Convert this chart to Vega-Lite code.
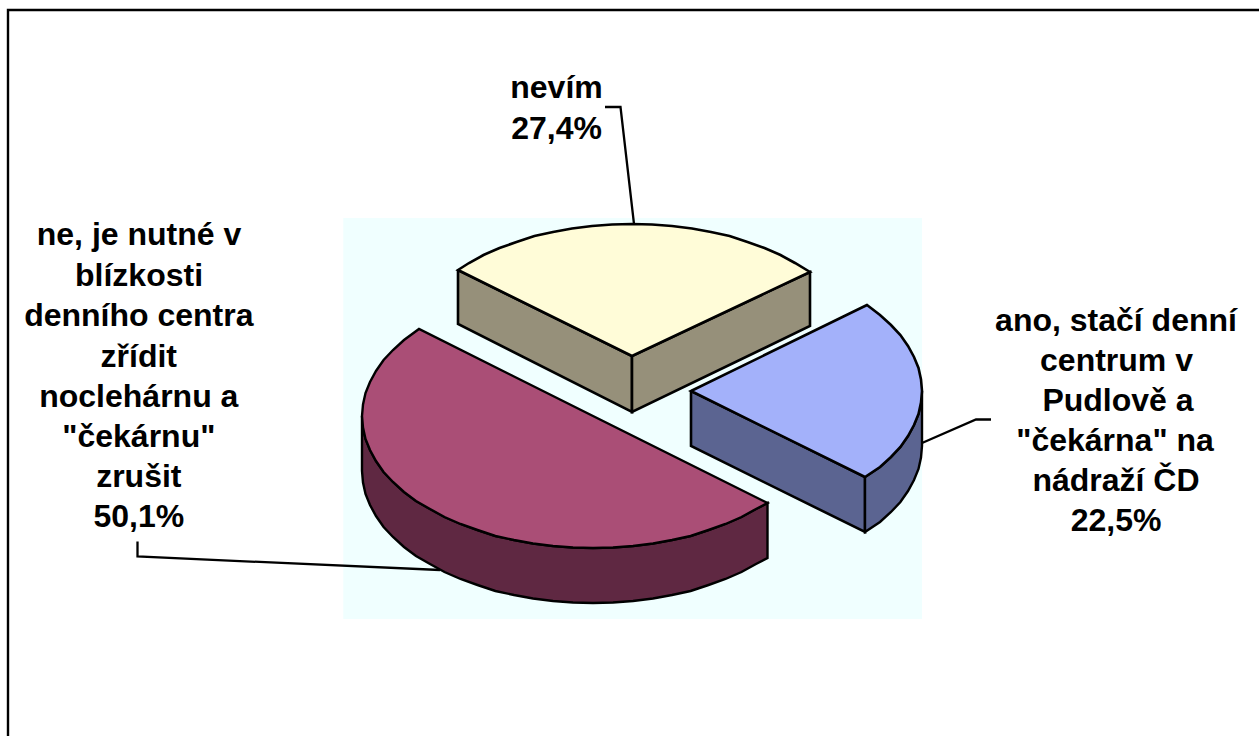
{"$schema":"https://vega.github.io/schema/vega-lite/v6.json","width":1259,"height":736,"padding":0,"autosize":{"type":"none"},"background":"white","view":{"stroke":null},
"encoding":{"x":{"field":"x","type":"quantitative","scale":{"domain":[0,1259]},"axis":null},"y":{"field":"y","type":"quantitative","scale":{"domain":[736,0]},"axis":null}},
"layer":[
{"data":{"values":[{"x":343.3,"x2":922,"y":218,"y2":619}]},"mark":{"type":"rect","fill":"#F0FFFF"},"encoding":{"x2":{"field":"x2"},"y2":{"field":"y2"}}},
{"data":{"values":[{"x":8,"y":736},{"x":8,"y":10},{"x":1259,"y":10}]},"mark":{"type":"line","stroke":"black","strokeWidth":2.4,"strokeJoin":"miter"},"encoding":{"order":{"value":null}}},
{"data":{"values":[{"x":605,"y":107},{"x":620.5,"y":107},{"x":634,"y":224}]},"mark":{"type":"line","stroke":"black","strokeWidth":2.3,"strokeJoin":"miter"},"encoding":{"order":{"value":null}}},
{"data":{"values":[{"x":991,"y":419.5},{"x":976,"y":419.5},{"x":922,"y":443}]},"mark":{"type":"line","stroke":"black","strokeWidth":2.3,"strokeJoin":"miter"},"encoding":{"order":{"value":null}}},
{"data":{"values":[{"x":137.5,"y":541.5},{"x":137.5,"y":556.5},{"x":440,"y":570}]},"mark":{"type":"line","stroke":"black","strokeWidth":2.3,"strokeJoin":"miter"},"encoding":{"order":{"value":null}}},
{"data":{"values":[{"x":362,"y":416},{"x":363,"y":427.5},{"x":365.5,"y":439},{"x":370,"y":450},{"x":376,"y":461},{"x":383.6,"y":472},{"x":393,"y":482},{"x":404,"y":492},{"x":416,"y":501},{"x":430,"y":509},{"x":444.5,"y":517},{"x":460.5,"y":524},{"x":477.5,"y":530},{"x":495.4,"y":536},{"x":514,"y":540},{"x":533,"y":543.5},{"x":553,"y":546},{"x":573,"y":547.5},{"x":593,"y":548},{"x":613,"y":547.5},{"x":633,"y":546},{"x":653,"y":543.5},{"x":672,"y":540},{"x":690.6,"y":536},{"x":708.5,"y":530},{"x":725.5,"y":524},{"x":741.5,"y":517},{"x":756,"y":509},{"x":767.5,"y":503},{"x":767.5,"y":558},{"x":756,"y":564},{"x":741.5,"y":572},{"x":725.5,"y":579},{"x":708.5,"y":585},{"x":690.6,"y":591},{"x":672,"y":595},{"x":653,"y":598.5},{"x":633,"y":601},{"x":613,"y":602.5},{"x":593,"y":603},{"x":573,"y":602.5},{"x":553,"y":601},{"x":533,"y":598.5},{"x":514,"y":595},{"x":495.4,"y":591},{"x":477.5,"y":585},{"x":460.5,"y":579},{"x":444.5,"y":572},{"x":430,"y":564},{"x":416,"y":556},{"x":404,"y":547},{"x":393,"y":537},{"x":383.6,"y":527},{"x":376,"y":516},{"x":370,"y":505},{"x":365.5,"y":494},{"x":363,"y":482.5},{"x":362,"y":471},{"x":362,"y":416}]},"mark":{"type":"line","fill":"#5F2842","stroke":"black","strokeWidth":2.4,"strokeJoin":"miter"},"encoding":{"order":{"value":null}}},
{"data":{"values":[{"x":593,"y":416},{"x":419,"y":329},{"x":404,"y":340},{"x":393,"y":350},{"x":383.6,"y":360},{"x":376,"y":371},{"x":370,"y":382},{"x":365.5,"y":393},{"x":363,"y":404.5},{"x":362,"y":416},{"x":363,"y":427.5},{"x":365.5,"y":439},{"x":370,"y":450},{"x":376,"y":461},{"x":383.6,"y":472},{"x":393,"y":482},{"x":404,"y":492},{"x":416,"y":501},{"x":430,"y":509},{"x":444.5,"y":517},{"x":460.5,"y":524},{"x":477.5,"y":530},{"x":495.4,"y":536},{"x":514,"y":540},{"x":533,"y":543.5},{"x":553,"y":546},{"x":573,"y":547.5},{"x":593,"y":548},{"x":613,"y":547.5},{"x":633,"y":546},{"x":653,"y":543.5},{"x":672,"y":540},{"x":690.6,"y":536},{"x":708.5,"y":530},{"x":725.5,"y":524},{"x":741.5,"y":517},{"x":756,"y":509},{"x":767.5,"y":503},{"x":593,"y":416},{"x":419,"y":329}]},"mark":{"type":"line","fill":"#AA4E76","stroke":"black","strokeWidth":2.4,"strokeJoin":"miter"},"encoding":{"order":{"value":null}}},
{"data":{"values":[{"x":458,"y":270},{"x":632,"y":356},{"x":632,"y":412},{"x":458,"y":324},{"x":458,"y":270}]},"mark":{"type":"line","fill":"#96907A","stroke":"black","strokeWidth":2.6,"strokeJoin":"miter"},"encoding":{"order":{"value":null}}},
{"data":{"values":[{"x":632,"y":356},{"x":810,"y":272},{"x":810,"y":326},{"x":632,"y":412},{"x":632,"y":356}]},"mark":{"type":"line","fill":"#96907A","stroke":"black","strokeWidth":2.6,"strokeJoin":"miter"},"encoding":{"order":{"value":null}}},
{"data":{"values":[{"x":632,"y":356},{"x":458,"y":270},{"x":469,"y":263},{"x":483.5,"y":255},{"x":499.5,"y":248},{"x":516.5,"y":242},{"x":534.4,"y":236},{"x":553,"y":232},{"x":572,"y":228.5},{"x":592,"y":226},{"x":612,"y":224.5},{"x":632,"y":224},{"x":652,"y":224.5},{"x":672,"y":226},{"x":692,"y":228.5},{"x":711,"y":232},{"x":729.6,"y":236},{"x":747.5,"y":242},{"x":764.5,"y":248},{"x":780.5,"y":255},{"x":795,"y":263},{"x":810,"y":272},{"x":632,"y":356},{"x":458,"y":270}]},"mark":{"type":"line","fill":"#FFFCD8","stroke":"black","strokeWidth":2.6,"strokeJoin":"miter"},"encoding":{"order":{"value":null}}},
{"data":{"values":[{"x":691,"y":391},{"x":865,"y":477},{"x":865,"y":532},{"x":691,"y":446},{"x":691,"y":391}]},"mark":{"type":"line","fill":"#5B6491","stroke":"black","strokeWidth":2.6,"strokeJoin":"miter"},"encoding":{"order":{"value":null}}},
{"data":{"values":[{"x":865,"y":477},{"x":880,"y":467},{"x":891,"y":457},{"x":900.4,"y":447},{"x":908,"y":436},{"x":914,"y":425},{"x":918.5,"y":414},{"x":921,"y":402.5},{"x":922,"y":391},{"x":922,"y":446},{"x":921,"y":457.5},{"x":918.5,"y":469},{"x":914,"y":480},{"x":908,"y":491},{"x":900.4,"y":502},{"x":891,"y":512},{"x":880,"y":522},{"x":865,"y":532},{"x":865,"y":477}]},"mark":{"type":"line","fill":"#5B6491","stroke":"black","strokeWidth":2.4,"strokeJoin":"miter"},"encoding":{"order":{"value":null}}},
{"data":{"values":[{"x":691,"y":391},{"x":867,"y":305},{"x":880,"y":315},{"x":891,"y":325},{"x":900.4,"y":335},{"x":908,"y":346},{"x":914,"y":357},{"x":918.5,"y":368},{"x":921,"y":379.5},{"x":922,"y":391},{"x":921,"y":402.5},{"x":918.5,"y":414},{"x":914,"y":425},{"x":908,"y":436},{"x":900.4,"y":447},{"x":891,"y":457},{"x":880,"y":467},{"x":865,"y":477},{"x":691,"y":391},{"x":867,"y":305}]},"mark":{"type":"line","fill":"#A3B1FA","stroke":"black","strokeWidth":2.6,"strokeJoin":"miter"},"encoding":{"order":{"value":null}}},
{"data":{"values":[
{"t":"nevím","x":556.5,"y":98},{"t":"27,4%","x":556.5,"y":139},
{"t":"ne, je nutné v","x":139,"y":244.5},{"t":"blízkosti","x":139,"y":285.5},{"t":"denního centra","x":138.8,"y":325.5},{"t":"zřídit","x":138.8,"y":366.5},{"t":"noclehárnu a","x":138.8,"y":406.5},{"t":"\"čekárnu\"","x":138.8,"y":446.5},{"t":"zrušit","x":138.8,"y":487},{"t":"50,1%","x":138.8,"y":527},
{"t":"ano, stačí denní","x":1116,"y":330.5},{"t":"centrum v","x":1116.5,"y":370.5},{"t":"Pudlově a","x":1118,"y":410.5},{"t":"\"čekárna\" na","x":1115,"y":450.5},{"t":"nádraží ČD","x":1116,"y":490.5},{"t":"22,5%","x":1116,"y":530.5}
]},"mark":{"type":"text","font":"Liberation Sans","fontWeight":"bold","fontSize":32,"align":"center","baseline":"alphabetic","color":"black"},"encoding":{"text":{"field":"t"}}}
]}
